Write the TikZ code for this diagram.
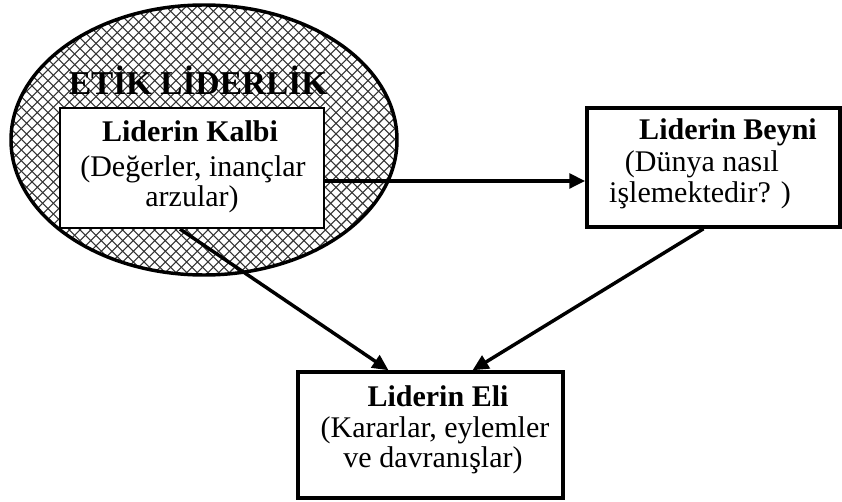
\documentclass[tikz,border=0pt]{standalone}
\usepackage{fontspec}
\setmainfont{Liberation Serif}
\usetikzlibrary{shapes.geometric,patterns,arrows.meta,calc}
\pgfdeclarepatternformonly{bigcross}{\pgfqpoint{-1pt}{-1pt}}{\pgfqpoint{9pt}{9pt}}{\pgfqpoint{8pt}{8pt}}{%
  \pgfsetlinewidth{0.8pt}%
  \pgfpathmoveto{\pgfqpoint{0pt}{0pt}}\pgfpathlineto{\pgfqpoint{8pt}{8pt}}%
  \pgfpathmoveto{\pgfqpoint{0pt}{8pt}}\pgfpathlineto{\pgfqpoint{8pt}{0pt}}%
  \pgfusepath{stroke}}
\tikzset{
  txt/.style={inner sep=0pt, anchor=base, font=\fontsize{22.5}{25}\selectfont},
  ttl/.style={inner sep=0pt, anchor=base, font=\fontsize{22.5}{25}\selectfont\bfseries},
  box/.style={draw, fill=white, rectangle, inner sep=0pt},
  conn/.style={line width=2.6pt, -{Triangle[length=12pt,width=11pt]}}
}
\begin{document}
\begin{tikzpicture}[x=0.75pt, y=-0.75pt]
\useasboundingbox (0,0) rectangle (842,502);
% ellipse
\node[ellipse, draw, line width=2.6pt, pattern=bigcross, pattern color=black!80,
      minimum width=289.5pt, minimum height=202.5pt, inner sep=0pt] (etik) at (204,140) {};
\node[inner sep=0pt, anchor=base, font=\fontsize{25}{28}\selectfont\bfseries] (etiklbl) at (198,95) {ETİK LİDERLİK};
% boxes
\node[box, line width=1.6pt, minimum width=198pt, minimum height=90pt] (kalbi) at (192,168) {};
\node[box, line width=2.6pt, minimum width=189.75pt, minimum height=89.25pt] (beyni) at (713.5,167.5) {};
\node[box, line width=2.6pt, minimum width=198.75pt, minimum height=94.5pt] (eli) at (430.5,435) {};
% texts
\node[ttl] (k1) at (190,142) {Liderin Kalbi};
\node[txt] (k2) at (193,177) {(Değerler, inançlar};
\node[txt] (k3) at (192,207) {arzular)};
\node[ttl] (b1) at (728,140) {Liderin Beyni};
\node[txt] (b2) at (702,172) {(Dünya nasıl};
\node[txt] (b3) at (700,203) {işlemektedir? )};
\node[ttl] (e1) at (438,406) {Liderin Eli};
\node[txt] (e2) at (435,437) {(Kararlar, eylemler};
\node[txt] (e3) at (433,467) {ve davranışlar)};
% connectors
\coordinate (ks) at ($(kalbi.south)+(-12,0)$);
\coordinate (bs) at ($(beyni.south)+(-10,0)$);
\coordinate (et1) at ($(eli.north)+(-42,0)$);
\coordinate (et2) at ($(eli.north)+(42,0)$);
\draw[conn] (kalbi.east |- 0,181) -- (beyni.west |- 0,181);
\draw[conn] (ks) -- (et1);
\draw[conn] (bs) -- (et2);
\end{tikzpicture}
\end{document}
